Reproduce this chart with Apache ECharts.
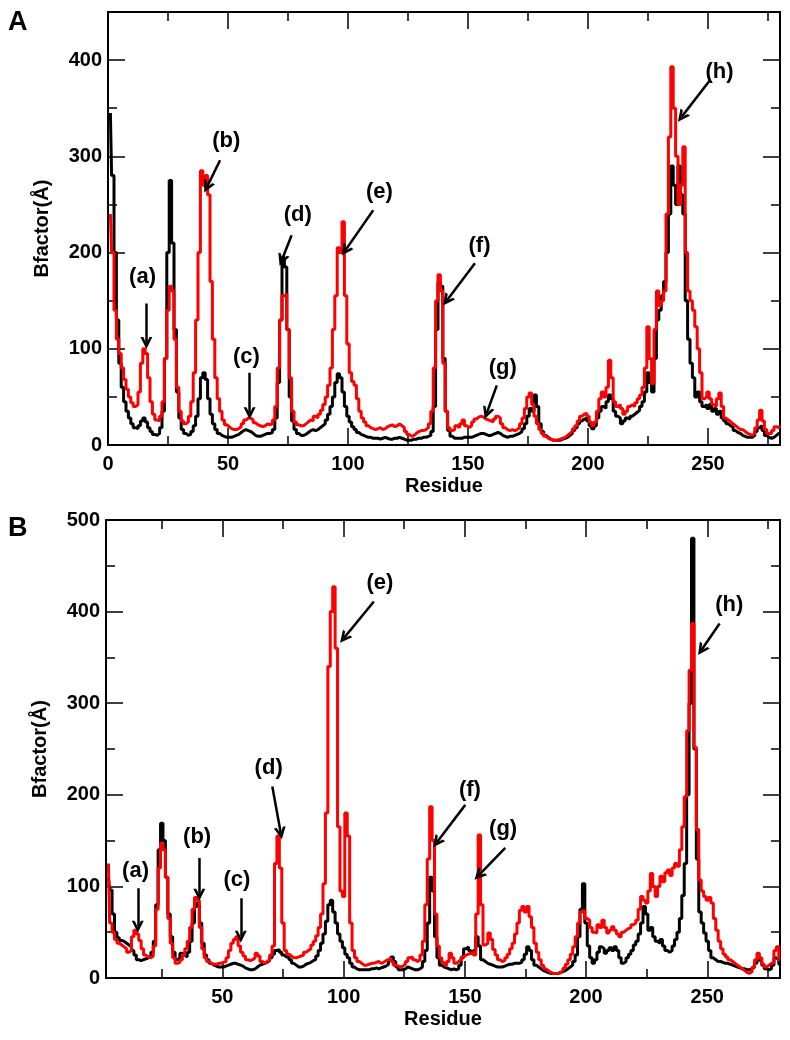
<!DOCTYPE html>
<html><head><meta charset="utf-8">
<script src="https://cdn.jsdelivr.net/npm/echarts@6/dist/echarts.min.js"></script>
<style>html,body{margin:0;padding:0;background:#fff}#c{width:790px;height:1040px}</style>
</head><body><div id="c"></div>
<script>
// ---------- DATA ----------
const startA = 1;   // first residue of panel A series
const startB = 3;   // first residue of panel B series
const xTicksMajorA = [0, 50, 100, 150, 200, 250];
const xTicksMinorA = [25, 75, 125, 175, 225, 275];
const xTicksMajorB = [50, 100, 150, 200, 250];
const xTicksMinorB = [25, 75, 125, 175, 225, 275];
const yTicksMajorA = [0, 100, 200, 300, 400];
const yTicksMinorA = [50, 150, 250, 350];
const yTicksMajorB = [0, 100, 200, 300, 400, 500];
const yTicksMinorB = [50, 150, 250, 350, 450];

const blackA = [
345,280,200,130,85,60,45,35,28,22,
18,17,20,25,28,24,18,14,11,10,
12,18,35,90,200,275,210,120,55,28,
16,12,10,11,14,20,30,48,70,75,
68,48,32,22,16,12,10,9,8,8,
8,9,10,11,13,15,16,15,14,12,
10,9,9,10,11,12,12,13,16,28,
65,130,195,185,120,50,25,16,12,10,
10,11,13,15,16,15,16,18,20,22,
26,32,40,50,65,74,70,55,40,30,
24,19,16,13,11,10,9,8,8,7,
7,7,6,7,8,7,6,6,7,7,
8,7,6,5,5,5,6,6,7,7,
8,8,9,10,14,40,120,170,165,90,
35,15,9,7,7,7,7,8,8,8,
8,9,10,11,12,12,11,10,10,11,
12,13,12,10,9,8,9,9,10,11,
12,14,17,22,30,38,35,52,40,22,
14,10,8,6,5,5,5,5,6,7,
8,10,12,15,18,22,25,27,28,25,
20,17,20,28,35,40,38,45,52,48,
35,30,28,22,25,28,27,30,32,34,
36,40,45,55,75,65,55,90,130,140,
155,170,200,240,290,270,250,290,260,240,
150,110,85,70,50,55,45,40,42,38,
42,35,38,32,35,28,25,22,20,18,
15,13,12,10,9,8,8,8,10,14,
18,20,15,10,8,7,8,10,12,12];

const redA = [
240,200,140,110,95,80,68,58,50,44,
40,42,55,85,100,95,70,45,32,26,
25,30,45,90,140,165,160,110,60,35,
25,22,24,30,45,75,130,200,285,270,
280,260,170,110,70,48,35,26,21,19,
17,16,16,17,19,22,26,28,28,26,
23,21,20,19,20,22,21,22,26,40,
80,130,155,157,120,70,35,24,21,20,
20,22,24,26,25,30,28,32,36,42,
50,62,80,120,155,205,200,232,155,105,
75,66,62,48,35,28,24,20,18,17,
16,17,18,16,17,19,20,21,19,20,
22,20,18,14,11,9,10,12,14,15,
15,16,18,22,35,80,150,177,160,85,
35,18,15,16,20,18,22,26,20,18,
20,24,27,29,30,29,27,26,25,24,
27,30,28,22,18,16,15,16,15,16,
18,22,28,38,50,54,42,30,22,16,
12,9,7,6,5,5,5,6,7,8,
10,12,14,17,20,25,30,32,33,30,
24,20,24,35,48,55,50,60,88,70,
45,40,42,38,32,35,40,42,40,44,
48,52,60,80,123,90,64,120,160,145,
150,160,240,320,393,350,300,250,270,310,
200,160,150,140,123,100,75,48,50,55,
48,42,40,48,54,40,28,26,24,22,
20,18,16,16,14,12,11,10,12,18,
26,36,25,16,12,12,15,19,18,20];

const blackB = [
110,96,70,50,44,41,40,38,36,34,
30,25,20,19,20,21,22,24,28,40,
80,140,169,150,110,70,45,28,20,22,
27,25,23,28,40,60,78,82,60,38,
25,20,16,14,13,12,12,12,13,14,
15,16,16,15,14,13,11,10,9,9,
10,12,14,15,16,17,19,22,26,30,
31,28,25,23,23,20,16,14,12,12,
13,15,16,17,19,20,24,30,38,48,
62,80,85,72,60,48,40,33,26,22,
16,12,10,9,9,9,9,9,10,10,
11,10,11,12,13,15,20,23,18,12,
9,9,10,12,11,10,9,9,10,12,
18,30,60,110,95,45,22,14,12,11,
10,9,10,9,10,14,22,32,34,30,
27,30,45,35,20,18,16,15,14,13,
12,12,12,13,14,15,15,16,16,16,
17,20,26,34,30,20,14,12,10,8,
7,6,5,5,5,5,6,7,8,10,
12,14,18,25,45,75,103,60,35,22,
16,20,28,34,32,27,30,33,30,34,
30,22,16,18,22,26,30,36,40,48,
60,78,70,52,55,45,40,38,42,35,
30,28,30,35,42,50,65,90,125,200,
300,480,250,130,72,60,49,40,30,22,
20,18,18,17,16,16,15,14,13,12,
11,10,10,9,9,10,12,16,20,18,
14,10,9,10,14,22,20,15];

const redB = [
125,60,50,42,38,36,34,32,28,30,
45,52,48,41,32,25,23,22,24,35,
75,120,147,140,110,65,38,22,16,17,
20,25,32,40,55,75,88,85,55,32,
22,18,16,15,15,16,16,17,18,22,
30,38,42,45,35,28,24,20,19,20,
22,27,24,18,16,18,20,25,35,125,
155,120,60,30,26,24,22,22,23,24,
25,28,30,32,36,40,46,55,70,103,
180,340,400,427,360,165,95,89,180,155,
60,30,22,18,16,14,14,15,16,16,
17,18,16,17,19,20,22,18,14,13,
12,13,15,18,22,23,20,18,20,25,
40,80,130,187,150,70,35,22,17,14,
18,27,22,16,18,20,23,25,26,27,
28,25,70,156,80,36,38,49,42,31,
25,20,18,19,22,26,32,38,48,60,
74,78,72,78,67,55,38,28,20,14,
10,8,6,5,5,5,6,8,11,15,
20,26,34,45,60,72,74,65,63,55,
50,49,58,55,63,55,49,52,56,52,
48,45,50,52,54,55,58,60,63,75,
89,85,82,95,114,100,89,100,111,105,
115,118,112,120,125,122,140,165,198,270,
336,387,252,162,107,95,89,85,88,82,
65,52,40,32,26,23,20,18,16,14,
12,10,8,6,5,7,12,20,27,22,
15,12,14,16,16,30,34,20];

// annotation labels (text anchor in data coords) and arrows (from -> to, data coords)
const annLabels = ['(a)','(b)','(c)','(d)','(e)','(f)','(g)','(h)'];
const annTextA  = [[14.6,174],[49.5,315],[57.9,91],[79.3,239],[113.3,262],[155,206],[164.7,80],[255,387]];
const annArrowA = [[[16,147],[16,106]],[[46.7,296],[41.2,268]],[[59,75],[59,33]],[[76.5,218],[72.4,192]],
                   [[110.5,244],[98.8,202]],[[152.9,189],[141.1,150]],[[162,62],[157.8,33]],[[250.8,379],[239,341]]];
const annTextB  = [[14.4,116],[39.8,153],[56.2,107],[69.3,229],[115.2,431],[152.3,205],[166,162],[259.3,407]];
const annArrowB = [[[15.1,98],[15.1,56]],[[40.5,131],[40.5,91]],[[57.6,87],[57.6,45]],[[70.6,209],[74.1,158]],
                   [[112.5,411],[100.1,371]],[[150.2,189],[138.4,148]],[[166.7,142],[155.7,112]],[[255.1,387],[247.6,358]]];

// ---------- CHART ----------
const FONT = 'Liberation Sans';
const lbl = {fontFamily: FONT, fontWeight: 'bold', fontSize: 20, color: '#000'};
const MAJ = 17, MIN = 9;

function xAx(grid, min, max, pos, ticks, len, showLabel, name) {
  return {
    type: 'value', gridIndex: grid, min: min, max: max, position: pos,
    axisLine: {show: true, onZero: false, lineStyle: {color: '#000', width: 2}},
    axisTick: {show: true, inside: true, length: len, customValues: ticks, lineStyle: {color: '#000', width: 1.5}},
    axisLabel: Object.assign({show: showLabel, customValues: ticks, margin: 9}, lbl),
    splitLine: {show: false},
    name: name || '', nameLocation: 'middle', nameGap: 31,
    nameTextStyle: Object.assign({}, lbl)
  };
}
function yAx(grid, min, max, pos, ticks, len, showLabel, name) {
  return {
    type: 'value', gridIndex: grid, min: min, max: max, position: pos,
    axisLine: {show: true, onZero: false, lineStyle: {color: '#000', width: 2}},
    axisTick: {show: true, inside: true, length: len, customValues: ticks, lineStyle: {color: '#000', width: 1.5}},
    axisLabel: Object.assign({show: showLabel, customValues: ticks, margin: 6}, lbl),
    splitLine: {show: false},
    name: name || '', nameLocation: 'middle', nameGap: 56, nameRotate: 90,
    nameTextStyle: Object.assign({}, lbl)
  };
}

const xAxes = [
  xAx(0, 0, 280, 'bottom', xTicksMajorA, MAJ, true, 'Residue'),
  xAx(0, 0, 280, 'bottom', xTicksMinorA, MIN, false),
  xAx(0, 0, 280, 'top', xTicksMajorA, MAJ, false),
  xAx(0, 0, 280, 'top', xTicksMinorA, MIN, false),
  xAx(1, 2, 280, 'bottom', xTicksMajorB, MAJ, true, 'Residue'),
  xAx(1, 2, 280, 'bottom', xTicksMinorB, MIN, false),
  xAx(1, 2, 280, 'top', xTicksMajorB, MAJ, false),
  xAx(1, 2, 280, 'top', xTicksMinorB, MIN, false)
];
const yAxes = [
  yAx(0, 0, 450, 'left', yTicksMajorA, MAJ, true, 'Bfactor(Å)'),
  yAx(0, 0, 450, 'left', yTicksMinorA, MIN, false),
  yAx(0, 0, 450, 'right', yTicksMajorA, MAJ, false),
  yAx(0, 0, 450, 'right', yTicksMinorA, MIN, false),
  yAx(1, 0, 500, 'left', yTicksMajorB, MAJ, true, 'Bfactor(Å)'),
  yAx(1, 0, 500, 'left', yTicksMinorB, MIN, false),
  yAx(1, 0, 500, 'right', yTicksMajorB, MAJ, false),
  yAx(1, 0, 500, 'right', yTicksMinorB, MIN, false)
];

function lineSeries(vals, start, color, xi, yi) {
  return {
    type: 'line', xAxisIndex: xi, yAxisIndex: yi, step: 'middle',
    data: vals.map((v, i) => [start + i, v]),
    showSymbol: false, symbol: 'none', silent: true, animation: false,
    lineStyle: {color: color, width: 3}, z: color === '#ff0000' ? 3 : 2
  };
}
function textSeries(pos, xi, yi) {
  return {
    type: 'scatter', xAxisIndex: xi, yAxisIndex: yi, symbolSize: 1, animation: false, silent: true,
    itemStyle: {color: '#000', opacity: 0},
    data: pos.map((p, i) => ({value: p, name: annLabels[i]})),
    label: {show: true, position: [0, 0], align: 'center', verticalAlign: 'middle',
            formatter: p => p.name, fontFamily: FONT, fontWeight: 'bold', fontSize: 22,
            color: '#000', opacity: 1, textBorderWidth: 0},
    labelLayout: {hideOverlap: false},
    z: 5
  };
}
function arrowSeries(arr, xi, yi) {
  return {
    type: 'lines', coordinateSystem: 'cartesian2d', xAxisIndex: xi, yAxisIndex: yi, animation: false, silent: true,
    symbol: ['none', 'path://M0,10 L5,0 L10,10 L7.6,10 L5,4.6 L2.4,10 Z'], symbolSize: [13, 12],
    lineStyle: {color: '#000', width: 2.5, opacity: 1, curveness: 0},
    data: arr.map(a => ({coords: a})), z: 6
  };
}

const option = {
  backgroundColor: '#fff',
  animation: false,
  grid: [
    {left: 108, top: 12, width: 672, height: 433, containLabel: false},
    {left: 106, top: 520, width: 674, height: 458, containLabel: false}
  ],
  xAxis: xAxes,
  yAxis: yAxes,
  graphic: [
    {type: 'text', left: 8, top: 9, style: {text: 'A', font: 'bold 27px "Liberation Sans"', fill: '#000'}},
    {type: 'text', left: 8, top: 515, style: {text: 'B', font: 'bold 27px "Liberation Sans"', fill: '#000'}}
  ],
  series: [
    lineSeries(blackA, startA, '#000000', 0, 0),
    lineSeries(redA, startA, '#ff0000', 0, 0),
    lineSeries(blackB, startB, '#000000', 4, 4),
    lineSeries(redB, startB, '#ff0000', 4, 4),
    textSeries(annTextA, 0, 0),
    arrowSeries(annArrowA, 0, 0),
    textSeries(annTextB, 4, 4),
    arrowSeries(annArrowB, 4, 4)
  ]
};
const chart = echarts.init(document.getElementById('c'));
chart.setOption(option);
</script>
</body></html>
